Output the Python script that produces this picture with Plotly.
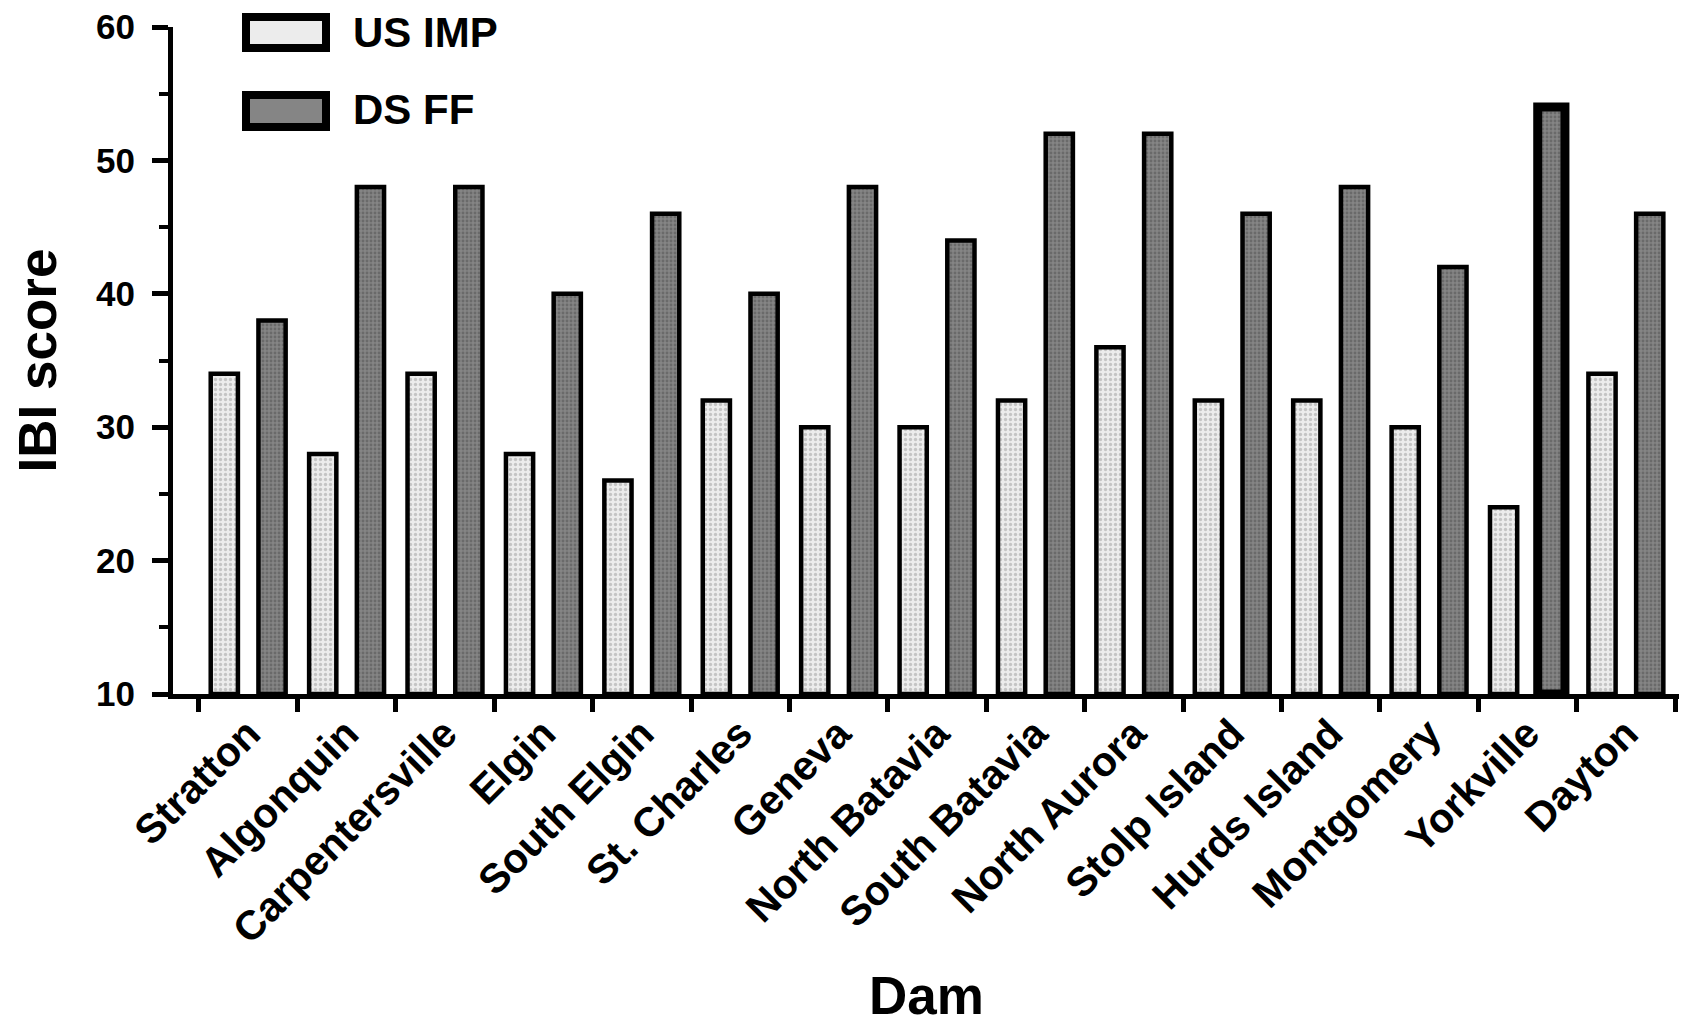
import plotly.graph_objects as go

categories = ["Stratton", "Algonquin", "Carpentersville", "Elgin", "South Elgin",
              "St. Charles", "Geneva", "North Batavia", "South Batavia", "North Aurora",
              "Stolp Island", "Hurds Island", "Montgomery", "Yorkville", "Dayton"]
us_imp = [34, 28, 34, 28, 26, 32, 30, 30, 32, 36, 32, 32, 30, 24, 34]
ds_ff = [38, 48, 48, 40, 46, 40, 48, 44, 52, 52, 46, 48, 42, 54, 46]
series_names = ["US IMP", "DS FF"]
y_ticks = [10, 20, 30, 40, 50, 60]

FONT = "Liberation Sans, Arial, sans-serif"
OFF = 8  # default page body margin
W, H = 1687 - OFF, 1025 - OFF
# screen-space plot area: x 173..1680, y 27..694
L, T = 173 - OFF, 27 - OFF
R = W - (1680 - OFF)
B = H - (694 - OFF)
pw, ph = W - L - R, H - T - B

light_style = dict(bg="#ececec", fg="#c4c4c4")
dark_style = dict(bg="#858585", fg="#6a6a6a")
ds_line_w = [4.5] * len(categories)
ds_line_w[categories.index("Yorkville")] = 9

fig = go.Figure()
fig.add_trace(go.Bar(
    x=categories, y=[v - 10 for v in us_imp], base=10, name=series_names[0],
    marker=dict(color=light_style["bg"], line=dict(color="black", width=4.5),
                pattern=dict(shape=".", bgcolor=light_style["bg"], fgcolor=light_style["fg"],
                             size=5, solidity=0.35, fillmode="replace")),
    showlegend=False, hoverinfo="x+y"))
fig.add_trace(go.Bar(
    x=categories, y=[v - 10 for v in ds_ff], base=10, name=series_names[1],
    marker=dict(color=dark_style["bg"], line=dict(color="black", width=ds_line_w),
                pattern=dict(shape=".", bgcolor=dark_style["bg"], fgcolor=dark_style["fg"],
                             size=4, solidity=0.4, fillmode="replace")),
    showlegend=False, hoverinfo="x+y"))

def px_x(p):  # screen px -> paper
    return (p - OFF - L) / pw

def px_y(p):
    return (H - B - (p - OFF)) / ph

shapes = []
annotations = []
legend_rows = [(13, 52, 32, light_style["bg"]), (91, 131, 110, dark_style["bg"])]
for name, (y0, y1, yc, col) in zip(series_names, legend_rows):
    shapes.append(dict(type="rect", xref="paper", yref="paper",
                       x0=px_x(246), x1=px_x(326), y0=px_y(y1 - 4), y1=px_y(y0 + 4),
                       fillcolor=col, line=dict(color="black", width=8), layer="above"))
    annotations.append(dict(text=name, xref="paper", yref="paper", x=px_x(351), y=px_y(yc),
                            xanchor="left", yanchor="middle", showarrow=False,
                            font=dict(family=FONT, size=42, color="black", weight="bold")))

fig.update_layout(
    width=W, height=H,
    margin=dict(l=L, r=R, t=T, b=B, autoexpand=False),
    paper_bgcolor="white", plot_bgcolor="white",
    barmode="group", bargap=0.03, bargroupgap=0.43,
    shapes=shapes, annotations=annotations,
    showlegend=False,
    xaxis=dict(
        type="category", range=[-0.764, 14.55], tickson="boundaries",
        ticks="outside", ticklen=13, tickwidth=5, tickcolor="black",
        showline=True, linewidth=5, linecolor="black", showgrid=False, zeroline=False,
        tickangle=-45, tickfont=dict(family=FONT, size=41, color="black", weight="bold"),
        ticklabelstandoff=-6, ticklabeloverflow="allow",
        title=dict(text="Dam", font=dict(family=FONT, size=53, color="black", weight="bold"),
                   standoff=29),
        automargin=False,
    ),
    yaxis=dict(
        range=[10, 60], tickmode="array", tickvals=y_ticks,
        ticks="outside", ticklen=16, tickwidth=5, tickcolor="black",
        minor=dict(dtick=5, tick0=5, ticks="outside", ticklen=9, tickwidth=4, tickcolor="black", showgrid=False),
        showline=True, linewidth=5, linecolor="black", showgrid=False, zeroline=False,
        tickfont=dict(family=FONT, size=35, color="black", weight="bold"),
        ticklabelstandoff=10, ticklabeloverflow="allow",
        title=dict(text="IBI score", font=dict(family=FONT, size=53, color="black", weight="bold"),
                   standoff=30),
        automargin=False,
    ),
)

fig.write_html("out.html")
